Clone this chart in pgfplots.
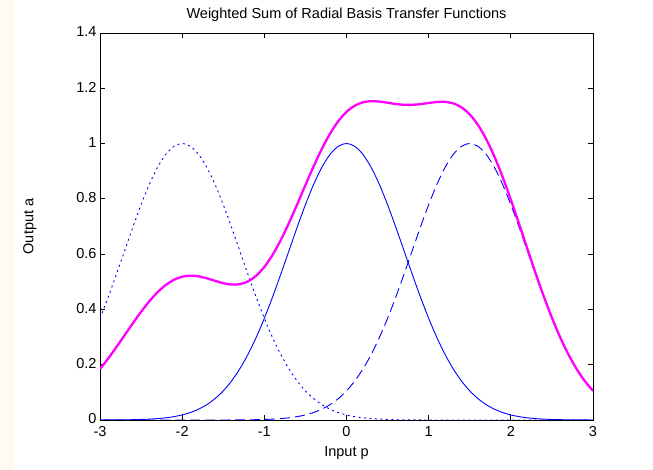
\documentclass[border=0pt]{standalone}
\usepackage{pgfplots}
\pgfplotsset{compat=1.18}
\usepackage{fontspec}
\setmainfont{Liberation Sans}
\definecolor{mag}{RGB}{255,0,255}
\definecolor{bl}{RGB}{0,0,255}
\definecolor{strip}{RGB}{255,251,239}
\begin{document}
\begin{tikzpicture}[x=1pt,y=1pt]
\useasboundingbox (0,0) rectangle (653,470);
\fill[strip] (0,0) rectangle (14,470);
\begin{axis}[
  at={(100pt,50pt)}, anchor=south west,
  scale only axis, width=493pt, height=387pt,
  xmin=-3, xmax=3, ymin=0, ymax=1.4,
  xtick={-3,-2,-1,0,1,2,3},
  ytick={0,0.2,0.4,0.6,0.8,1,1.2,1.4},
  yticklabels={0,0.2,0.4,0.6,0.8,1,1.2,1.4},
  xticklabels={-3,-2,-1,0,1,2,3},
  tick align=inside, major tick length=5pt,
  tick style={black, line width=0.8pt},
  axis line style={black, line width=0.9pt},
  ticklabel style={font=\fontsize{14.5}{16}\selectfont},
  xticklabel style={yshift=-2.5pt},
  yticklabel style={xshift=0pt, yshift=1pt},
  title={Weighted Sum of Radial Basis Transfer Functions},
  title style={font=\fontsize{14.5}{16}\selectfont, at={(0.5,1)}, anchor=south, yshift=2pt},
  xlabel={Input p}, ylabel={Output a},
  label style={font=\fontsize{14.5}{16}\selectfont},
  xlabel style={at={(0.5,0)}, anchor=north, yshift=-23pt},
  ylabel style={at={(0,0.5)}, anchor=south, yshift=60pt},
  clip=true,
]
% radbas(p+2), dotted
\addplot[bl, line width=0.9pt, dash pattern=on 2pt off 3.5pt, smooth] coordinates {
(-3.0,0.36788)(-2.9,0.44486)(-2.8,0.52729)(-2.7,0.61263)(-2.6,0.69768)(-2.5,0.77880)
(-2.4,0.85214)(-2.3,0.91393)(-2.2,0.96079)(-2.1,0.99005)(-2.0,1.00000)(-1.9,0.99005)
(-1.8,0.96079)(-1.7,0.91393)(-1.6,0.85214)(-1.5,0.77880)(-1.4,0.69768)(-1.3,0.61263)
(-1.2,0.52729)(-1.1,0.44486)(-1.0,0.36788)(-0.9,0.29820)(-0.8,0.23693)(-0.7,0.18452)
(-0.6,0.14086)(-0.5,0.10540)(-0.4,0.07730)(-0.3,0.05558)(-0.2,0.03916)(-0.1,0.02705)
(0.0,0.01832)(0.1,0.01216)(0.2,0.00791)(0.3,0.00504)(0.4,0.00315)(0.5,0.00193)
(0.6,0.00116)(0.7,0.00068)(0.8,0.00039)(0.9,0.00022)(1.0,0.00012)(1.2,0.00004)
(1.5,0.0)(2.0,0.0)(2.5,0.0)(3.0,0.0)};
% radbas(p), solid
\addplot[bl, line width=0.9pt, smooth] coordinates {
(-3.0,0.00012)(-2.9,0.00022)(-2.8,0.00039)(-2.7,0.00068)(-2.6,0.00116)(-2.5,0.00193)
(-2.4,0.00315)(-2.3,0.00504)(-2.2,0.00791)(-2.1,0.01216)(-2.0,0.01832)(-1.9,0.02705)
(-1.8,0.03916)(-1.7,0.05558)(-1.6,0.07730)(-1.5,0.10540)(-1.4,0.14086)(-1.3,0.18452)
(-1.2,0.23693)(-1.1,0.29820)(-1.0,0.36788)(-0.9,0.44486)(-0.8,0.52729)(-0.7,0.61263)
(-0.6,0.69768)(-0.5,0.77880)(-0.4,0.85214)(-0.3,0.91393)(-0.2,0.96079)(-0.1,0.99005)
(0.0,1.00000)(0.1,0.99005)(0.2,0.96079)(0.3,0.91393)(0.4,0.85214)(0.5,0.77880)
(0.6,0.69768)(0.7,0.61263)(0.8,0.52729)(0.9,0.44486)(1.0,0.36788)(1.1,0.29820)
(1.2,0.23693)(1.3,0.18452)(1.4,0.14086)(1.5,0.10540)(1.6,0.07730)(1.7,0.05558)
(1.8,0.03916)(1.9,0.02705)(2.0,0.01832)(2.1,0.01216)(2.2,0.00791)(2.3,0.00504)
(2.4,0.00315)(2.5,0.00193)(2.6,0.00116)(2.7,0.00068)(2.8,0.00039)(2.9,0.00022)(3.0,0.00012)};
% radbas(p-1.5), dashed
\addplot[bl, line width=0.9pt, dash pattern=on 10pt off 5pt, smooth] coordinates {
(-3.0,0.0)(-2.5,0.0)(-2.0,0.0)(-1.5,0.00012)(-1.4,0.00022)(-1.3,0.00039)(-1.2,0.00068)
(-1.1,0.00116)(-1.0,0.00193)(-0.9,0.00315)(-0.8,0.00504)(-0.7,0.00791)(-0.6,0.01216)
(-0.5,0.01832)(-0.4,0.02705)(-0.3,0.03916)(-0.2,0.05558)(-0.1,0.07730)(0.0,0.10540)
(0.1,0.14086)(0.2,0.18452)(0.3,0.23693)(0.4,0.29820)(0.5,0.36788)(0.6,0.44486)
(0.7,0.52729)(0.8,0.61263)(0.9,0.69768)(1.0,0.77880)(1.1,0.85214)(1.2,0.91393)
(1.3,0.96079)(1.4,0.99005)(1.5,1.00000)(1.6,0.99005)(1.7,0.96079)(1.8,0.91393)
(1.9,0.85214)(2.0,0.77880)(2.1,0.69768)(2.2,0.61263)(2.3,0.52729)(2.4,0.44486)
(2.5,0.36788)(2.6,0.29820)(2.7,0.23693)(2.8,0.18452)(2.9,0.14086)(3.0,0.10540)};
% weighted sum
\addplot[mag, line width=2.3pt, smooth] coordinates {
(-3.0,0.18406)(-2.9,0.22265)(-2.8,0.26404)(-2.7,0.30700)(-2.6,0.35000)(-2.5,0.39133)
(-2.4,0.42922)(-2.3,0.46201)(-2.2,0.48831)(-2.1,0.50719)(-2.0,0.51832)(-1.9,0.52208)
(-1.8,0.51956)(-1.7,0.51255)(-1.6,0.50344)(-1.5,0.49492)(-1.4,0.48992)(-1.3,0.49123)
(-1.2,0.50126)(-1.1,0.52179)(-1.0,0.55375)(-0.9,0.59711)(-0.8,0.65080)(-0.7,0.71280)
(-0.6,0.78027)(-0.5,0.84982)(-0.4,0.91784)(-0.3,0.98088)(-0.2,1.03595)(-0.1,1.08088)
(0.0,1.11456)(0.1,1.13699)(0.2,1.14927)(0.3,1.15338)(0.4,1.15192)(0.5,1.14765)
(0.6,1.14312)(0.7,1.14026)(0.8,1.14012)(0.9,1.14265)(1.0,1.14674)(1.1,1.15034)
(1.2,1.15086)(1.3,1.14531)(1.4,1.13091)(1.5,1.10540)(1.6,1.06735)(1.7,1.01637)
(1.8,0.95309)(1.9,0.87919)(2.0,0.79712)(2.1,0.70984)(2.2,0.62054)(2.3,0.53233)
(2.4,0.44801)(2.5,0.36981)(2.6,0.29936)(2.7,0.23761)(2.8,0.18491)(2.9,0.14108)(3.0,0.10552)};
\end{axis}
\end{tikzpicture}
\end{document}
